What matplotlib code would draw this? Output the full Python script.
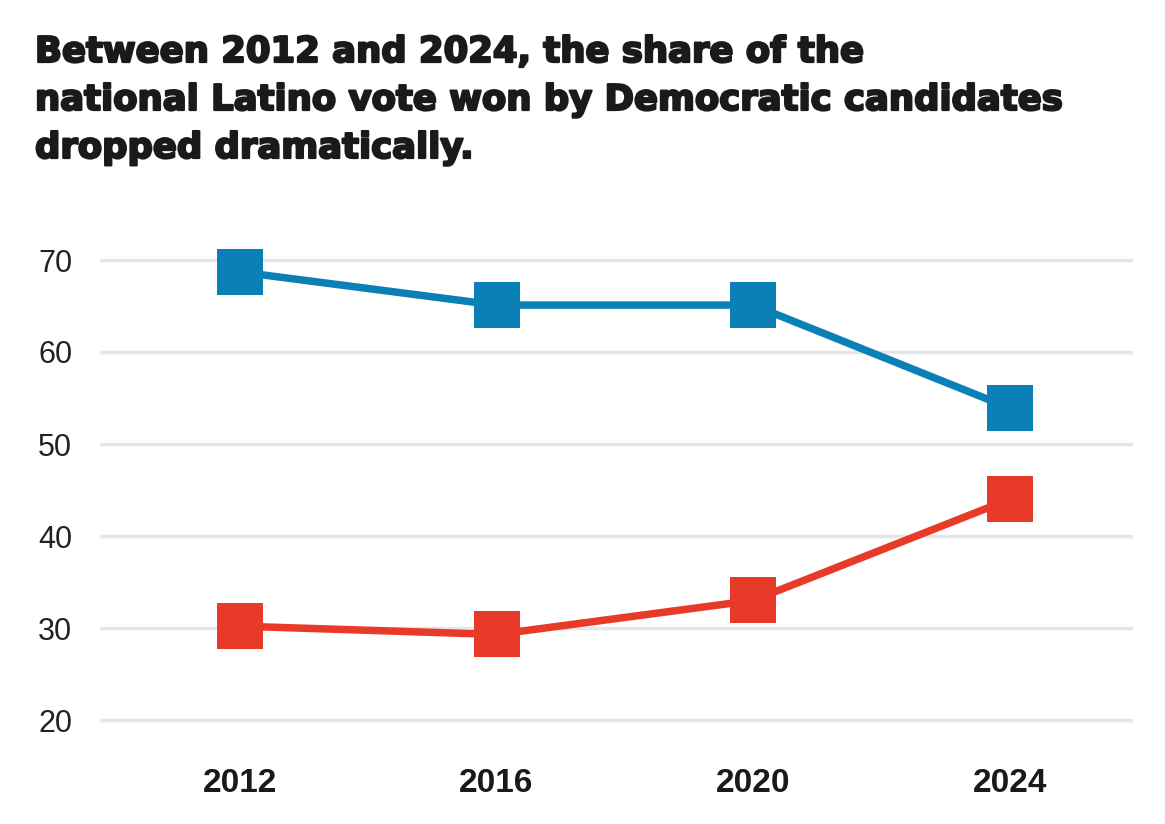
import matplotlib
matplotlib.use("Agg")
import matplotlib.pyplot as plt
import matplotlib.patheffects as pe

years = ["2012", "2016", "2020", "2024"]
dem_share = [68.7, 65.1, 65.1, 53.9]
rep_share = [30.2, 29.3, 33.0, 44.0]
y_ticks = [20, 30, 40, 50, 60, 70]
title_lines = ["Between 2012 and 2024, the share of the",
               "national Latino vote won by Democratic candidates",
               "dropped dramatically."]

blue = "#0a80b6"
red = "#e83a29"

fig = plt.figure(figsize=(11.65, 8.24), dpi=100)
ax_top, ax_bot = 255.4, 724.6
ax = fig.add_axes([100/1165, 1-ax_bot/824, (1133-100)/1165, (ax_bot-ax_top)/824])

x = list(range(len(years)))
for vals, col in [(dem_share, blue), (rep_share, red)]:
    ax.plot(x, vals, color=col, lw=5.4, marker="s", markersize=33,
            markeredgewidth=0, clip_on=False, zorder=3,
            solid_capstyle="butt")

ax.set_xlim(-0.545, 3.48)
ax.set_ylim(19.5, 70.5)
ax.set_yticks(y_ticks)
ax.set_yticklabels([str(t) for t in y_ticks], fontsize=22,
                   family=["Liberation Sans", "DejaVu Sans"], color="#222222")
ax.set_xticks(x)
ax.set_xticklabels(years, fontsize=24, fontweight="bold",
                   family=["Liberation Sans", "DejaVu Sans"], color="#1a1a1a")
ax.tick_params(axis="y", length=0, pad=20)
ax.tick_params(axis="x", length=0, pad=31)
for s in ax.spines.values():
    s.set_visible(False)
ax.yaxis.grid(True, color="#e6e6e6", lw=2.5, zorder=0)
ax.set_axisbelow(True)

baselines = [62, 110, 158]
for line, yb in zip(title_lines, baselines):
    fig.text(35/1165, 1-yb/824, line, ha="left", va="baseline", fontsize=25.5,
             fontweight="bold", family=["DejaVu Sans"], color="#1a1a1a",
             path_effects=[pe.withStroke(linewidth=1.6, foreground="#1a1a1a")])

fig.savefig("out.png", dpi=100, facecolor="white")
